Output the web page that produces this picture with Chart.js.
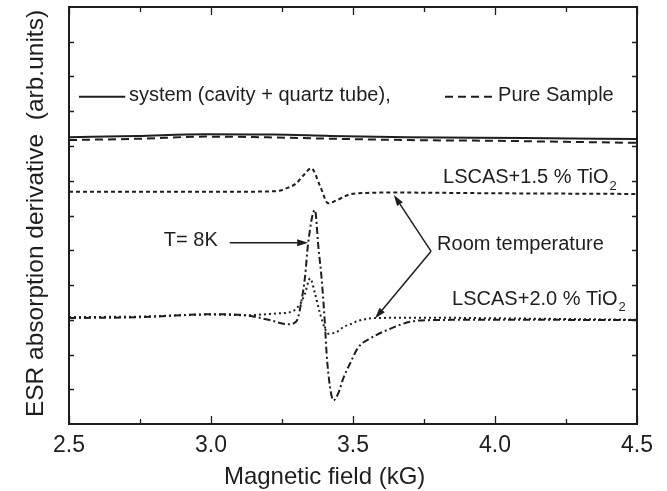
<!DOCTYPE html>
<html lang="en">
<head>
<meta charset="UTF-8">
<title>ESR spectra</title>
<script src="https://cdn.jsdelivr.net/npm/chart.js"></script>
<style>
  html, body { margin: 0; padding: 0; background: #fff; }
  canvas { display: block; }
</style>
</head>
<body>
<canvas id="esrChart" width="667" height="491"></canvas>
<script>
// field in kG, signal in arbitrary units (frame runs 0..12)
var systemField = [2.5, 2.74, 2.98, 3.22, 3.42, 3.69, 4.1, 4.5];
var systemSignal = [8.25, 8.29, 8.34, 8.33, 8.29, 8.25, 8.23, 8.2];

var pureField = [2.5, 2.75, 2.98, 3.2, 3.42, 3.7, 4.0, 4.25, 4.5];
var pureSignal = [8.17, 8.21, 8.27, 8.25, 8.21, 8.17, 8.15, 8.12, 8.09];

var ti15Field = [2.5, 3.0, 3.23, 3.265, 3.299, 3.326, 3.353, 3.384, 3.413, 3.443, 3.49, 3.548, 3.641, 4.0, 4.5];
var ti15Signal = [6.68, 6.68, 6.70, 6.78, 6.92, 7.16, 7.36, 6.85, 6.35, 6.44, 6.61, 6.65, 6.66, 6.64, 6.62];

var ti20RoomField = [2.5, 2.74, 3.01, 3.12, 3.23, 3.289, 3.317, 3.331, 3.349, 3.366, 3.384, 3.401, 3.413, 3.443, 3.466, 3.49, 3.519, 3.584, 3.771, 4.018, 4.5];
var ti20RoomSignal = [3.08, 3.09, 3.15, 3.13, 3.18, 3.25, 3.5, 3.76, 4.19, 3.76, 3.18, 2.75, 2.6, 2.65, 2.79, 2.87, 2.97, 3.05, 3.06, 3.04, 3.0];

var ti20ColdField = [2.5, 2.739, 3.013, 3.121, 3.207, 3.271, 3.299, 3.307, 3.319, 3.331, 3.342, 3.366, 3.378, 3.39, 3.401, 3.407, 3.419, 3.431, 3.448, 3.466, 3.49, 3.519, 3.56, 3.619, 3.701, 3.772, 4.018, 4.5];
var ti20ColdSignal = [3.05, 3.07, 3.16, 3.13, 2.99, 2.87, 2.94, 3.08, 3.56, 4.23, 5.2, 6.16, 5.1, 4.14, 2.89, 2.03, 1.07, 0.68, 0.88, 1.32, 1.75, 2.21, 2.46, 2.7, 2.94, 2.99, 3.0, 2.99];

var xTitle = 'Magnetic field (kG)';
var yTitle = 'ESR absorption derivative  (arb.units)';

var ink = '#1e1e1e';
var textFont = '"Liberation Sans", Arial, Helvetica, sans-serif';

function pts(xs, ys) {
    return xs.map(function(x, i) { return {x: x, y: ys[i]}; });
}

function series(label, xs, ys, dash) {
    return {
        label: label,
        data: pts(xs, ys),
        borderColor: ink,
        borderWidth: 2,
        borderDash: dash,
        pointRadius: 0,
        cubicInterpolationMode: 'monotone',
        fill: false
    };
}

// text labels and arrows, placed in data coordinates
var notes = [
    {text: 'system (cavity + quartz tube),', x: 2.711, y: 9.44},
    {text: 'Pure Sample', x: 4.011, y: 9.44},
    {text: 'LSCAS+1.5 % TiO', sub: '2', x: 3.817, y: 7.08},
    {text: 'LSCAS+2.0 % TiO', sub: '2', x: 3.849, y: 3.59},
    {text: 'T= 8K', x: 2.834, y: 5.29},
    {text: 'Room temperature', x: 3.796, y: 5.18}
];
var keyLines = [
    {x1: 2.535, x2: 2.698, y: 9.42, dash: []},
    {x1: 3.824, x2: 4.0, y: 9.42, dash: [8, 5]}
];
var arrows = [
    {x1: 3.066, y1: 5.213, x2: 3.342, y2: 5.213},
    {x1: 3.775, y1: 4.97, x2: 3.644, y2: 6.59},
    {x1: 3.775, y1: 4.97, x2: 3.578, y2: 3.04}
];

function arrow(ctx, x1, y1, x2, y2) {
    var ang = Math.atan2(y2 - y1, x2 - x1), len = 11, half = 3.5;
    var bx = x2 - len * Math.cos(ang), by = y2 - len * Math.sin(ang);
    ctx.beginPath();
    ctx.moveTo(x1, y1);
    ctx.lineTo(bx, by);
    ctx.stroke();
    ctx.beginPath();
    ctx.moveTo(x2, y2);
    ctx.lineTo(bx - half * Math.sin(ang), by + half * Math.cos(ang));
    ctx.lineTo(bx + half * Math.sin(ang), by - half * Math.cos(ang));
    ctx.closePath();
    ctx.fill();
}

var framePlugin = {
    id: 'framePlugin',
    afterDatasetsDraw: function(chart) {
        var ctx = chart.ctx, a = chart.chartArea;
        var xs = chart.scales.x, ys = chart.scales.y;
        ctx.save();
        ctx.strokeStyle = ink;
        ctx.fillStyle = ink;

        // box
        ctx.lineWidth = 2;
        ctx.strokeRect(a.left, a.top, a.right - a.left, a.bottom - a.top);

        // inward ticks, every 0.25 kG on top and bottom
        ctx.lineWidth = 1.3;
        ctx.beginPath();
        for (var v = xs.min; v <= xs.max + 1e-9; v += 0.25) {
            var px = Math.round(xs.getPixelForValue(v)) + 0.5;
            var major = Math.abs(v * 2 - Math.round(v * 2)) < 1e-6;
            var l = major ? 8 : 5;
            ctx.moveTo(px, a.bottom);
            ctx.lineTo(px, a.bottom - l);
            ctx.moveTo(px, a.top);
            ctx.lineTo(px, a.top + l);
        }
        for (var u = ys.min + 1; u < ys.max; u++) {
            var py = Math.round(ys.getPixelForValue(u)) + 0.5;
            ctx.moveTo(a.left, py);
            ctx.lineTo(a.left + 5, py);
            ctx.moveTo(a.right, py);
            ctx.lineTo(a.right - 5, py);
        }
        ctx.stroke();

        // key line samples
        ctx.lineWidth = 2;
        keyLines.forEach(function(k) {
            ctx.setLineDash(k.dash);
            ctx.beginPath();
            ctx.moveTo(xs.getPixelForValue(k.x1), ys.getPixelForValue(k.y));
            ctx.lineTo(xs.getPixelForValue(k.x2), ys.getPixelForValue(k.y));
            ctx.stroke();
        });
        ctx.setLineDash([]);

        // arrows
        ctx.lineWidth = 1.5;
        arrows.forEach(function(r) {
            arrow(ctx, xs.getPixelForValue(r.x1), ys.getPixelForValue(r.y1),
                xs.getPixelForValue(r.x2), ys.getPixelForValue(r.y2));
        });

        // labels
        ctx.textBaseline = 'middle';
        ctx.textAlign = 'left';
        notes.forEach(function(n) {
            var px = xs.getPixelForValue(n.x), py = ys.getPixelForValue(n.y);
            ctx.font = '20px ' + textFont;
            ctx.fillText(n.text, px, py);
            if (n.sub) {
                var w = ctx.measureText(n.text).width;
                ctx.font = '13px ' + textFont;
                ctx.fillText(n.sub, px + w + 1, py + 8);
            }
        });

        // axis titles
        ctx.font = '24px ' + textFont;
        ctx.textAlign = 'center';
        ctx.textBaseline = 'alphabetic';
        ctx.fillText(xTitle, xs.getPixelForValue(3.4), 484);
        ctx.font = '24.5px ' + textFont;
        ctx.translate(43, (a.top + a.bottom) / 2 - 2);
        ctx.rotate(-Math.PI / 2);
        ctx.fillText(yTitle, 0, 0);
        ctx.restore();
    }
};

new Chart(document.getElementById('esrChart'), {
    type: 'line',
    data: {
        datasets: [
            series('system (cavity + quartz tube)', systemField, systemSignal, []),
            series('Pure Sample', pureField, pureSignal, [8, 5]),
            series('LSCAS+1.5 % TiO2', ti15Field, ti15Signal, [4, 3]),
            series('LSCAS+2.0 % TiO2, room temperature', ti20RoomField, ti20RoomSignal, [2, 3]),
            series('LSCAS+2.0 % TiO2, T= 8K', ti20ColdField, ti20ColdSignal, [7, 3, 2, 3])
        ]
    },
    options: {
        responsive: false,
        animation: false,
        devicePixelRatio: 1,
        layout: { padding: { top: 7, right: 30, bottom: 0, left: 0 } },
        plugins: { legend: { display: false }, tooltip: { enabled: false } },
        scales: {
            x: {
                type: 'linear',
                min: 2.5,
                max: 4.5,
                grid: { display: false, drawTicks: false },
                border: { display: false },
                ticks: {
                    stepSize: 0.5,
                    padding: 8,
                    color: ink,
                    maxRotation: 0,
                    font: { family: textFont, size: 23 },
                    callback: function(v) { return v.toFixed(1); }
                },
                title: { display: false },
                afterFit: function(s) { s.height = 67; }
            },
            y: {
                type: 'linear',
                min: 0,
                max: 12,
                grid: { display: false, drawTicks: false },
                border: { display: false },
                ticks: { display: false },
                title: { display: false },
                afterFit: function(s) { s.width = 69; }
            }
        }
    },
    plugins: [framePlugin]
});
</script>
</body>
</html>
